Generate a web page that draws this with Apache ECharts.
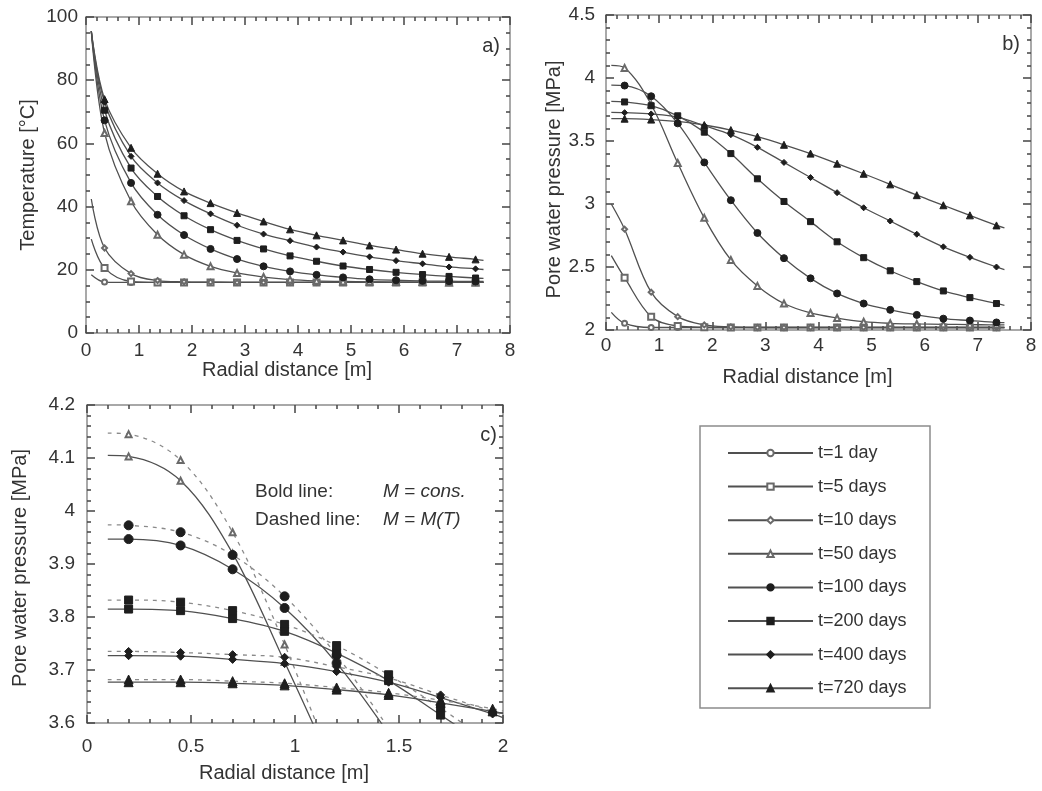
<!DOCTYPE html>
<html><head><meta charset="utf-8">
<script src="https://cdn.jsdelivr.net/npm/echarts@6/dist/echarts.min.js"></script>
<style>html,body{margin:0;padding:0;background:#fff}#c{width:1042px;height:791px}</style>
</head><body><div id="c"></div>
<script>
// ---------- data ----------
const seriesNames = ['t=1 day','t=5 days','t=10 days','t=50 days','t=100 days','t=200 days','t=400 days','t=720 days'];
const seriesSymbols = ['emptyCircle','emptyRect','emptyDiamond','emptyTriangle','circle','rect','diamond','triangle'];

// panel a / b: radial distance (first and last values are curve ends, others carry markers)
const xAB = [0.1,0.35,0.85,1.35,1.85,2.35,2.85,3.35,3.85,4.35,4.85,5.35,5.85,6.35,6.85,7.35,7.5];

// panel a: temperature [°C]
const tempT1   = [18.4,16.1,16.0,16.0,16.0,16.0,16.0,16.0,16.0,16.0,16.0,16.0,16.0,16.0,16.0,16.0,16.0];
const tempT5   = [29.7,20.6,16.3,16.0,16.0,16.0,16.0,16.0,16.0,16.0,16.0,16.0,16.0,16.0,16.0,16.0,16.0];
const tempT10  = [42.4,26.9,18.8,16.6,16.2,16.1,16.0,16.0,16.0,16.0,16.0,16.0,16.0,16.0,16.0,16.0,16.0];
const tempT50  = [95.5,63.3,41.7,31.1,24.8,21.1,19.0,17.7,16.9,16.5,16.3,16.2,16.1,16.1,16.0,16.0,16.0];
const tempT100 = [95.5,67.3,47.5,37.4,31.0,26.6,23.4,21.1,19.5,18.4,17.6,17.0,16.7,16.5,16.4,16.3,16.3];
const tempT200 = [95.5,70.5,52.2,43.2,37.1,32.7,29.3,26.6,24.4,22.7,21.2,20.1,19.2,18.5,17.9,17.4,17.3];
const tempT400 = [95.5,73.0,55.9,47.5,41.9,37.7,34.1,31.3,29.2,27.2,25.6,24.1,22.9,21.9,20.9,20.3,20.1];
const tempT720 = [95.5,74.0,58.6,50.4,44.8,41.1,38.0,35.3,32.8,30.9,29.3,27.7,26.4,25.1,24.1,23.3,23.0];

// panel b: pore water pressure [MPa]
const presT1   = [2.14,2.053,2.02,2.02,2.02,2.02,2.02,2.02,2.02,2.02,2.02,2.02,2.02,2.02,2.02,2.02,2.02];
const presT5   = [2.59,2.415,2.106,2.032,2.022,2.02,2.02,2.02,2.02,2.02,2.02,2.02,2.02,2.02,2.02,2.02,2.02];
const presT10  = [3.0,2.80,2.30,2.106,2.04,2.025,2.02,2.02,2.02,2.02,2.02,2.02,2.02,2.02,2.02,2.02,2.02];
const presT50  = [4.10,4.08,3.79,3.325,2.89,2.556,2.35,2.21,2.135,2.095,2.066,2.053,2.048,2.045,2.043,2.04,2.04];
const presT100 = [3.944,3.94,3.855,3.64,3.33,3.03,2.77,2.57,2.41,2.29,2.21,2.16,2.12,2.09,2.075,2.06,2.058];
const presT200 = [3.815,3.81,3.78,3.70,3.57,3.40,3.20,3.02,2.86,2.70,2.574,2.47,2.384,2.31,2.257,2.21,2.196];
const presT400 = [3.727,3.725,3.715,3.69,3.622,3.55,3.45,3.33,3.21,3.09,2.97,2.865,2.76,2.66,2.577,2.50,2.48];
const presT720 = [3.677,3.677,3.67,3.655,3.627,3.587,3.534,3.47,3.40,3.32,3.24,3.156,3.07,2.99,2.91,2.83,2.81];

// panel c: zoom near the heat source, solid = M const, dashed = M(T)
const xC = [0.1,0.2,0.45,0.7,0.95,1.2,1.45,1.7,1.95,2.0];
const cT50Solid   = [4.105,4.103,4.057,3.92,3.715,3.50];
const cT50Dash    = [4.147,4.145,4.096,3.96,3.748,3.50];
const cT100Solid  = [3.947,3.947,3.935,3.89,3.817,3.713,3.58];
const cT100Dash   = [3.974,3.973,3.96,3.917,3.839,3.728,3.59];
const cT200Solid  = [3.815,3.815,3.812,3.797,3.773,3.732,3.68,3.615,3.55];
const cT200Dash   = [3.832,3.832,3.828,3.812,3.786,3.746,3.691,3.628,3.56];
const cT400Solid  = [3.727,3.727,3.726,3.72,3.712,3.697,3.677,3.648,3.617,3.61];
const cT400Dash   = [3.735,3.735,3.733,3.729,3.724,3.706,3.685,3.653,3.622,3.615];
const cT720Solid  = [3.677,3.677,3.677,3.675,3.671,3.663,3.653,3.638,3.622,3.618];
const cT720Dash   = [3.682,3.682,3.682,3.679,3.675,3.667,3.657,3.643,3.627,3.623];

// ---------- build ----------
const FONT = '"Liberation Sans", Arial, sans-serif';
const AXIS_COLOR = '#8c8c8c';
const TICK_COLOR = '#444444';
const LINE_COLOR = '#505050';
const DASH_COLOR = '#8a8a8a';

function mk(xs, ys, lastIsEnd) {
  const n = ys.length;
  return ys.map((y, i) => {
    const item = { value: [xs[i], y] };
    if (i === 0 || (lastIsEnd && i === n - 1)) item.symbol = 'none';
    return item;
  });
}
function symColor(k) { return k < 4 ? '#6a6a6a' : '#1e1e1e'; }
function symSize(k, big) {
  const base = [5, 6, 5, 6, 7, 6, 6, 7][k];
  return big ? base + 2 : base;
}

const grids = [
  { left: 86, top: 17, width: 424, height: 316 },
  { left: 606, top: 15, width: 425, height: 315 },
  { left: 87, top: 405, width: 416, height: 318 }
];

function tickParts(split) {
  return {
    axisLine: { show: true, onZero: false, lineStyle: { color: AXIS_COLOR, width: 1.5 } },
    axisTick: { show: true, inside: true, length: 8, lineStyle: { color: TICK_COLOR, width: 1.5 } },
    minorTick: { show: true, splitNumber: split, length: 4, lineStyle: { color: TICK_COLOR, width: 1.5 } },
    splitLine: { show: false },
    minorSplitLine: { show: false }
  };
}
function xAxes(gi, min, max, interval, split, margin, nameGap) {
  const base = { type: 'value', gridIndex: gi, min, max, interval };
  return [
    Object.assign({}, base, tickParts(split), {
      position: 'bottom',
      axisLabel: { show: true, fontSize: 19, color: '#333', fontFamily: FONT, margin },
      name: 'Radial distance [m]', nameLocation: 'middle', nameGap,
      nameTextStyle: { fontSize: 20, color: '#333', fontFamily: FONT, padding: [0, 22, 0, 0] }
    }),
    Object.assign({}, base, tickParts(split), { position: 'top', axisLabel: { show: false } })
  ];
}
function yAxes(gi, min, max, interval, split, margin, name, nameGap, pad) {
  const base = { type: 'value', gridIndex: gi, min, max, interval };
  return [
    Object.assign({}, base, tickParts(split), {
      position: 'left',
      axisLabel: { show: true, fontSize: 19, color: '#333', fontFamily: FONT, margin },
      name, nameLocation: 'middle', nameGap,
      nameTextStyle: { fontSize: 20, color: '#333', fontFamily: FONT, padding: pad }
    }),
    Object.assign({}, base, tickParts(split), { position: 'right', axisLabel: { show: false } })
  ];
}

const xAxis = [].concat(
  xAxes(0, 0, 8, 1, 5, 8, 26),
  xAxes(1, 0, 8, 1, 5, 6, 37),
  xAxes(2, 0, 2, 0.5, 5, 14, 40)
);
const yAxis = [].concat(
  yAxes(0, 0, 100, 20, 4, 8, 'Temperature [°C]', 48, [0, 0, 0, 0]),
  yAxes(1, 2, 4.5, 0.5, 5, 11, 'Pore water pressure [MPa]', 41, [0, 14, 0, 0]),
  yAxes(2, 3.6, 4.2, 0.1, 5, 12, 'Pore water pressure [MPa]', 57, [0, 8, 0, 0])
);

const series = [];
const tempArrays = [tempT1, tempT5, tempT10, tempT50, tempT100, tempT200, tempT400, tempT720];
const presArrays = [presT1, presT5, presT10, presT50, presT100, presT200, presT400, presT720];
function addSeries(k, xs, ys, xi, yi, dashed, lastIsEnd, big) {
  series.push({
    type: 'line', name: seriesNames[k], xAxisIndex: xi, yAxisIndex: yi,
    data: mk(xs, ys, lastIsEnd), smooth: 0.35,
    symbol: seriesSymbols[k], symbolSize: symSize(k, big), showAllSymbol: true,
    clip: true, animation: false,
    lineStyle: dashed ? { color: DASH_COLOR, width: 1.3, type: [4, 5] } : { color: LINE_COLOR, width: 1.3 },
    itemStyle: { color: symColor(k), borderColor: symColor(k), borderWidth: 1 },
    emphasis: { disabled: true }
  });
}
for (let k = 0; k < 8; k++) addSeries(k, xAB, tempArrays[k], 0, 0, false, true, false);
for (let k = 0; k < 8; k++) addSeries(k, xAB, presArrays[k], 2, 2, false, true, false);
const cSolid = [cT50Solid, cT100Solid, cT200Solid, cT400Solid, cT720Solid];
const cDash = [cT50Dash, cT100Dash, cT200Dash, cT400Dash, cT720Dash];
for (let j = 0; j < 5; j++) {
  const k = j + 3;
  const lastEnd = cSolid[j].length === xC.length;
  addSeries(k, xC, cDash[j], 4, 4, true, lastEnd, k > 3);
  addSeries(k, xC, cSolid[j], 4, 4, false, lastEnd, k > 3);
}

const option = {
  backgroundColor: '#fff',
  animation: false,
  grid: grids,
  xAxis, yAxis, series,
  legend: {
    data: seriesNames, orient: 'vertical', left: 722, top: 438,
    itemWidth: 85, itemHeight: 8, itemGap: 13.6, selectedMode: false,
    textStyle: { fontSize: 18, color: '#333', fontFamily: FONT, lineHeight: 20 }
  },
  graphic: [
    { type: 'rect', shape: { x: 700, y: 426, width: 230, height: 282 },
      style: { fill: 'none', stroke: AXIS_COLOR, lineWidth: 1.5 }, silent: true },
    { type: 'text', right: 1042 - 500, top: 36, style: { text: 'a)', font: '20px ' + FONT, fill: '#333' } },
    { type: 'text', right: 1042 - 1020, top: 34, style: { text: 'b)', font: '20px ' + FONT, fill: '#333' } },
    { type: 'text', right: 1042 - 497, top: 425, style: { text: 'c)', font: '20px ' + FONT, fill: '#333' } },
    { type: 'text', left: 255, top: 482, style: { text: 'Bold line:', font: '19px ' + FONT, fill: '#333' } },
    { type: 'text', left: 383, top: 482, style: { text: 'M = cons.', font: 'italic 19px ' + FONT, fill: '#333' } },
    { type: 'text', left: 255, top: 510, style: { text: 'Dashed line:', font: '19px ' + FONT, fill: '#333' } },
    { type: 'text', left: 383, top: 510, style: { text: 'M = M(T)', font: 'italic 19px ' + FONT, fill: '#333' } }
  ]
};
const chart = echarts.init(document.getElementById('c'), null, { renderer: 'canvas' });
chart.setOption(option);
</script></body></html>
